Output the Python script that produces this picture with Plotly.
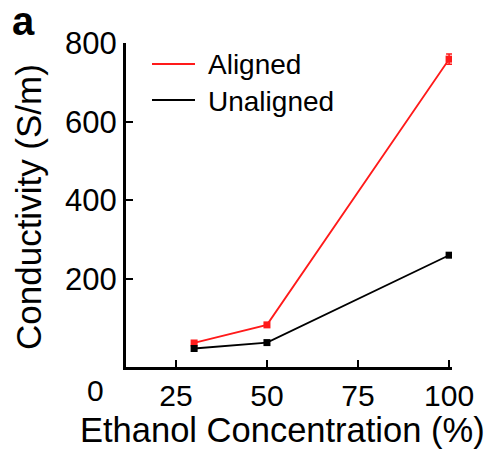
import plotly.graph_objects as go

# Data
ethanol = [30, 50, 100]
aligned = [38, 84, 759]
aligned_err = [5, 5, 13]
unaligned = [24, 39, 261]
unaligned_err = [3, 3, 4]

x_ticks = [25, 50, 75, 100]
y_ticks = [200, 400, 600, 800]
series_names = ["Aligned", "Unaligned"]

RED = "#ff1a1a"
BLACK = "#000000"
FONT = "Liberation Sans, Arial, Helvetica, sans-serif"

# plot-area geometry (px) used to place decorations in paper coordinates
L, R, T, B = 126, 48, 43, 83
PW, PH = 500 - L - R, 450 - T - B


def px(xpix):
    return (xpix - L) / PW


def py(ypix):
    return (450 - B - ypix) / PH


fig = go.Figure()

for yvals, err, color, name in [(aligned, aligned_err, RED, series_names[0]),
                                (unaligned, unaligned_err, BLACK, series_names[1])]:
    fig.add_trace(go.Scatter(
        x=ethanol, y=yvals, mode="lines+markers", name=name,
        line=dict(color=color, width=1.8),
        marker=dict(symbol="square", size=7, color=color),
        error_y=dict(type="data", array=err, color=color, thickness=1.5, width=3),
        showlegend=False,
    ))

fig.update_layout(
    width=500, height=450,
    margin=dict(l=L, r=R, t=T, b=B, autoexpand=False),
    paper_bgcolor="white", plot_bgcolor="white",
    font=dict(family=FONT, color="black"),
    showlegend=False,
    xaxis=dict(
        range=[11.3, 100.8], tickvals=x_ticks, ticktext=[str(v) for v in x_ticks],
        ticks="inside", ticklen=7, tickwidth=2, tickcolor="black",
        showline=True, linecolor="black", linewidth=3, showgrid=False, zeroline=False,
        tickfont=dict(size=30, family=FONT), automargin=False,
    ),
    yaxis=dict(
        range=[-23, 800], tickvals=y_ticks, ticktext=[str(v) for v in y_ticks],
        ticks="inside", ticklen=7, tickwidth=2, tickcolor="black",
        showline=True, linecolor="black", linewidth=3, showgrid=False, zeroline=False,
        tickfont=dict(size=31, family=FONT), automargin=False,
    ),
)

# axis titles
fig.add_annotation(text="Ethanol Concentration (%)", x=px(282), y=py(430),
                   xref="paper", yref="paper", showarrow=False,
                   xanchor="center", yanchor="middle", font=dict(size=34.5, family=FONT))
fig.add_annotation(text="Conductivity (S/m)", x=px(28.5), y=py(207.5), textangle=-90,
                   xref="paper", yref="paper", showarrow=False,
                   xanchor="center", yanchor="middle", font=dict(size=35, family=FONT))
# panel label
fig.add_annotation(text="<b>a</b>", x=px(23.5), y=py(21), xref="paper", yref="paper",
                   showarrow=False, xanchor="center", yanchor="middle",
                   font=dict(size=40, family=FONT))
# stray "0" tick label left of the x axis
fig.add_annotation(text="0", x=px(95), y=py(391), xref="paper", yref="paper",
                   showarrow=False, xanchor="center", yanchor="middle",
                   font=dict(size=30, family=FONT))

# legend (lines only)
for name, color, ycen, ytxt in [(series_names[0], RED, 64, 65),
                                (series_names[1], BLACK, 100, 101)]:
    fig.add_shape(type="line", xref="paper", yref="paper",
                  x0=px(152), x1=px(195), y0=py(ycen), y1=py(ycen),
                  line=dict(color=color, width=1.8))
    fig.add_annotation(text=name, x=px(206), y=py(ytxt), xref="paper", yref="paper",
                       showarrow=False, xanchor="left", yanchor="middle",
                       font=dict(size=28, family=FONT))

fig.write_html(
    "out.html",
    config={"displayModeBar": False},
    post_script="document.body.style.margin='0';document.body.style.overflow='hidden';",
)
